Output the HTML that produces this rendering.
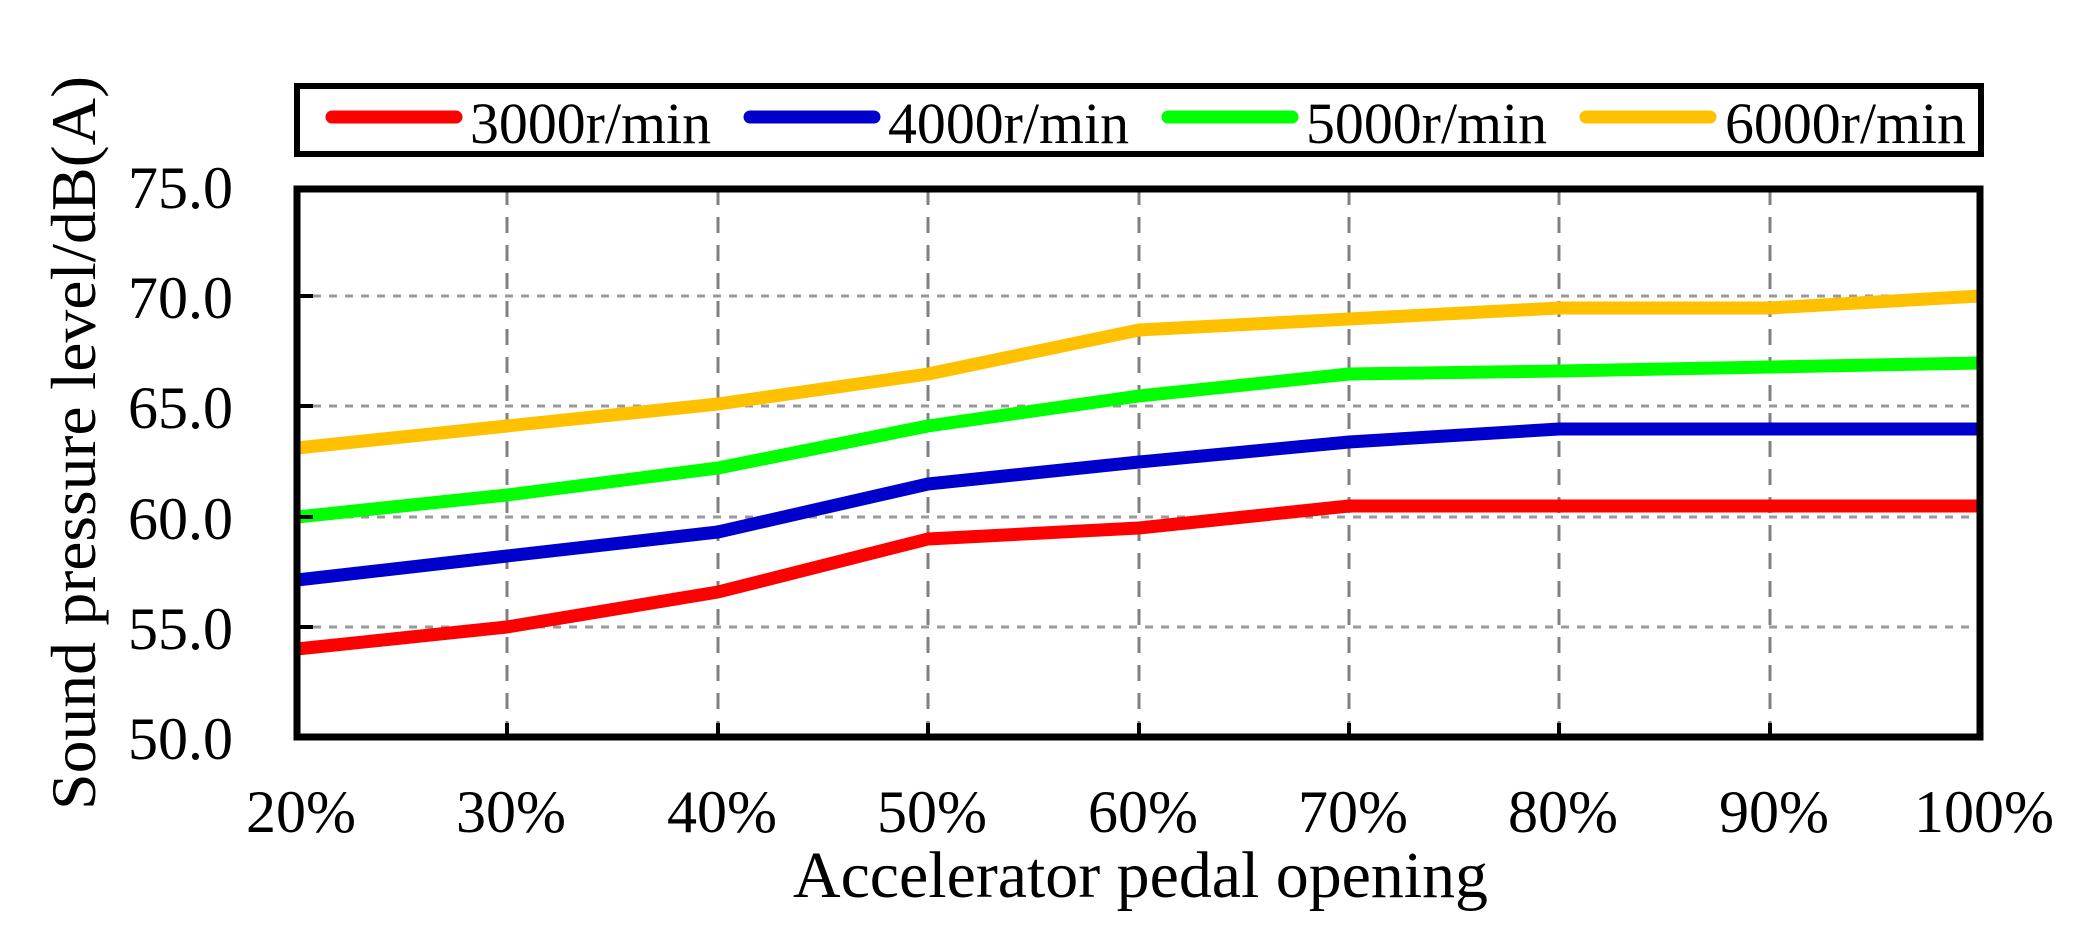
<!DOCTYPE html>
<html><head><meta charset="utf-8"><style>html,body{margin:0;padding:0;background:#fff;}svg{display:block;}</style></head>
<body>
<svg width="2088" height="946" viewBox="0 0 2088 946" xmlns="http://www.w3.org/2000/svg" font-family="'Liberation Serif', serif">
<rect width="2088" height="946" fill="#fff"/>
<!-- legend -->
<rect x="297" y="86" width="1684" height="68" fill="#fff" stroke="#000" stroke-width="6"/>
<g stroke-width="13" stroke-linecap="round">
<line x1="332" y1="117" x2="456" y2="117" stroke="#ff0000"/>
<line x1="750" y1="117" x2="874" y2="117" stroke="#0000cc"/>
<line x1="1168" y1="117" x2="1292" y2="117" stroke="#00ff00"/>
<line x1="1586" y1="117" x2="1710" y2="117" stroke="#ffc000"/>
</g>
<g font-size="58" fill="#000">
<text x="470" y="143" textLength="241" lengthAdjust="spacingAndGlyphs">3000r/min</text>
<text x="888" y="143" textLength="241" lengthAdjust="spacingAndGlyphs">4000r/min</text>
<text x="1306" y="143" textLength="241" lengthAdjust="spacingAndGlyphs">5000r/min</text>
<text x="1725" y="143" textLength="241" lengthAdjust="spacingAndGlyphs">6000r/min</text>
</g>
<!-- grid -->
<g stroke="#999" stroke-width="3">
<g stroke-dasharray="8 8">
<line x1="297" y1="296" x2="1980" y2="296"/>
<line x1="297" y1="406" x2="1980" y2="406"/>
<line x1="297" y1="517" x2="1980" y2="517"/>
<line x1="297" y1="627" x2="1980" y2="627"/>
</g>
<g stroke-dasharray="16 12" stroke="#808080">
<line x1="507" y1="189" x2="507" y2="737"/>
<line x1="718" y1="189" x2="718" y2="737"/>
<line x1="928" y1="189" x2="928" y2="737"/>
<line x1="1139" y1="189" x2="1139" y2="737"/>
<line x1="1349" y1="189" x2="1349" y2="737"/>
<line x1="1559" y1="189" x2="1559" y2="737"/>
<line x1="1770" y1="189" x2="1770" y2="737"/>
</g>
</g>
<!-- series -->
<g fill="none" stroke-width="13" stroke-linejoin="round">
<polyline stroke="#ff0000" points="297,649 507,627 718,592 928,539 1139,528 1349,506 1559,506 1770,506 1980,506"/>
<polyline stroke="#0000cc" points="297,580 507,556 718,532 928,484 1139,462 1349,442 1559,429 1770,429 1980,429"/>
<polyline stroke="#00ff00" points="297,517 507,495 718,468 928,426 1139,396 1349,374 1559,371 1770,367 1980,363"/>
<polyline stroke="#ffc000" points="297,448 507,426 718,404 928,374 1139,330 1349,319 1559,308 1770,308 1980,296"/>
</g>
<!-- ticks -->
<g stroke="#000" stroke-width="4">
<line x1="297" y1="296" x2="313" y2="296"/>
<line x1="297" y1="406" x2="313" y2="406"/>
<line x1="297" y1="517" x2="313" y2="517"/>
<line x1="297" y1="627" x2="313" y2="627"/>
<line x1="507" y1="737" x2="507" y2="723"/>
<line x1="718" y1="737" x2="718" y2="723"/>
<line x1="928" y1="737" x2="928" y2="723"/>
<line x1="1139" y1="737" x2="1139" y2="723"/>
<line x1="1349" y1="737" x2="1349" y2="723"/>
<line x1="1559" y1="737" x2="1559" y2="723"/>
<line x1="1770" y1="737" x2="1770" y2="723"/>
</g>
<!-- frame -->
<rect x="297" y="189" width="1683" height="548" fill="none" stroke="#000" stroke-width="7"/>
<!-- y ticks -->
<g font-size="60" fill="#000" text-anchor="end">
<text x="233" y="208">75.0</text>
<text x="233" y="318">70.0</text>
<text x="233" y="428">65.0</text>
<text x="233" y="539">60.0</text>
<text x="233" y="649">55.0</text>
<text x="233" y="759">50.0</text>
</g>
<g font-size="60" fill="#000" text-anchor="middle">
<text x="301" y="832">20%</text>
<text x="511" y="832">30%</text>
<text x="722" y="832">40%</text>
<text x="932" y="832">50%</text>
<text x="1143" y="832">60%</text>
<text x="1353" y="832">70%</text>
<text x="1563" y="832">80%</text>
<text x="1774" y="832">90%</text>
<text x="1984" y="832">100%</text>
</g>
<text x="793" y="897" font-size="66" textLength="695" lengthAdjust="spacingAndGlyphs">Accelerator pedal opening</text>
<text transform="translate(95,810) rotate(-90)" font-size="64" textLength="734" lengthAdjust="spacingAndGlyphs">Sound pressure level/dB(A)</text>
</svg>
</body></html>
